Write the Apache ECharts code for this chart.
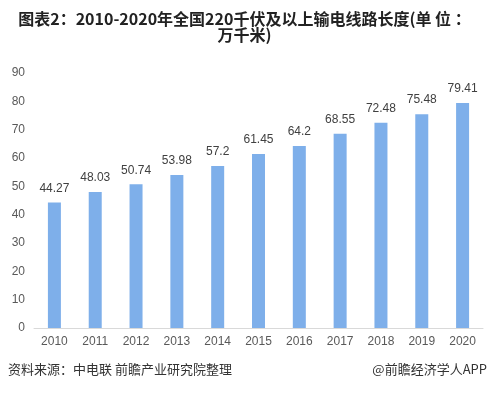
<!DOCTYPE html>
<html><head><meta charset="utf-8">
<script src="https://cdn.jsdelivr.net/npm/echarts@6/dist/echarts.min.js"></script>
<style>html,body{margin:0;padding:0;background:#fff}#c{width:489px;height:393px}</style>
</head><body><div id="c"></div>
<script>
const categories = ['2010','2011','2012','2013','2014','2015','2016','2017','2018','2019','2020'];
const values = [44.27,48.03,50.74,53.98,57.2,61.45,64.2,68.55,72.48,75.48,79.41];
const valueLabels = ['44.27','48.03','50.74','53.98','57.2','61.45','64.2','68.55','72.48','75.48','79.41'];
const titleText = '图表2：2010-2020年全国220千伏及以上输电线路长度(单 位 ：\n万千米)';
const sourceText = '资料来源：中电联 前瞻产业研究院整理';
const brandText = '@前瞻经济学人APP';

const chart = echarts.init(document.getElementById('c'));
const ff = '"Noto Sans CJK SC", "Noto Sans", sans-serif';
chart.setOption({
  animation: false,
  textStyle: {fontFamily: ff},
  title: {
    text: titleText, left: 'center', top: 11, padding: 0,
    textStyle: {fontSize: 16, fontWeight: 'bold', color: '#222', lineHeight: 16, fontFamily: ff}
  },
  graphic: [
    {type: 'text', left: 8, top: 363, style: {text: sourceText, fontSize: 13, fill: '#333', fontFamily: ff}},
    {type: 'text', right: 2, top: 363, style: {text: brandText, fontSize: 13, fill: '#333', fontFamily: ff}}
  ],
  grid: {left: 34, right: 6, top: 73, bottom: 65},
  xAxis: {
    type: 'category', data: categories,
    axisLine: {lineStyle: {color: '#d9d9d9'}},
    axisTick: {show: false},
    axisLabel: {color: '#595959', fontSize: 12, margin: 8, fontFamily: 'Arial, "Liberation Sans", sans-serif'}
  },
  yAxis: {
    type: 'value', min: 0, max: 90, interval: 10,
    splitLine: {show: false},
    axisLine: {show: false}, axisTick: {show: false},
    axisLabel: {color: '#595959', fontSize: 12, margin: 9, fontFamily: 'Arial, "Liberation Sans", sans-serif'}
  },
  series: [{
    type: 'bar', data: values, barWidth: 13,
    itemStyle: {color: '#7EAFEA'},
    label: {show: true, position: 'top', distance: 8, color: '#404040', fontSize: 12,
      fontFamily: 'Arial, "Liberation Sans", sans-serif',
      formatter: p => valueLabels[p.dataIndex]}
  }]
});
</script></body></html>
